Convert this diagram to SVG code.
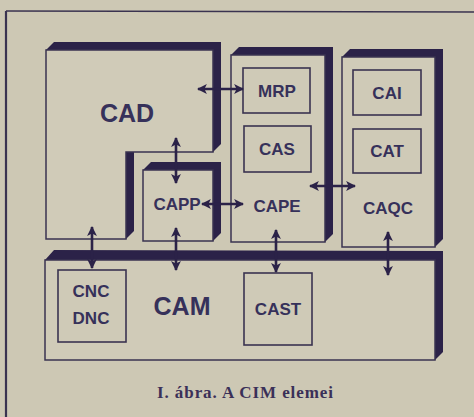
<svg xmlns="http://www.w3.org/2000/svg" width="474" height="417" viewBox="0 0 474 417">
<defs>
<style>
.bg{fill:#cdc8b4}
.sh{fill:#2b2248}
.fr{fill:#d0cbb8;stroke:#3a3350;stroke-width:1.5}
.ib{fill:#cfcab7;stroke:#3a3350;stroke-width:1.6}
.t{font-family:"Liberation Sans",Arial,sans-serif;font-weight:bold;fill:#36315a;text-anchor:middle}
.s{font-size:17px}
.b{font-size:25px}
.cap{font-family:"Liberation Serif","Times New Roman",serif;font-weight:bold;font-size:17px;fill:#3a3058;text-anchor:middle}
.ar{stroke:#2b2248;stroke-width:2.6;fill:none;marker-start:url(#ah);marker-end:url(#ah)}
</style>
<marker id="ah" viewBox="0 0 10 10" refX="9" refY="5" markerWidth="3.8" markerHeight="3.8" orient="auto-start-reverse" markerUnits="strokeWidth">
<path d="M0,0 L10,5 L0,10 L2.5,5 z" fill="#2b2248"/>
</marker>
</defs>
<rect class="bg" x="0" y="0" width="474" height="417"/>
<g id="frame" fill="none" stroke="#3a3350">
<line x1="6" y1="11" x2="474" y2="12" stroke-width="1.6"/>
<line x1="6" y1="11" x2="6" y2="417" stroke-width="2.2"/>
</g>
<g id="CAD">
<polygon class="sh" points="46,50 54,42 221,42 221,144 213,152 134,152 134,231 126,239 46,239"/>
<polygon class="fr" points="46,50 213,50 213,152 126,152 126,239 46,239"/>
<text class="t b" x="127" y="122">CAD</text>
</g>
<g id="CAPP">
<polygon class="sh" points="143,170 151,162 221,162 221,233 213,241"/>
<rect class="fr" x="143" y="170" width="70" height="71"/>
<text class="t s" x="177" y="210">CAPP</text>
</g>
<g id="CAPE">
<polygon class="sh" points="231,55 239,47 333,47 333,234 325,242"/>
<rect class="fr" x="231" y="55" width="94" height="187"/>
<text class="t s" x="277" y="212">CAPE</text>
</g>
<g id="MRP">
<rect class="ib" x="243" y="68" width="67" height="45"/>
<text class="t s" x="277" y="97">MRP</text>
</g>
<g id="CAS">
<rect class="ib" x="244" y="126" width="67" height="46"/>
<text class="t s" x="277" y="155">CAS</text>
</g>
<g id="CAQC">
<polygon class="sh" points="342,57 350,49 443,49 443,239 435,247"/>
<rect class="fr" x="342" y="57" width="93" height="190"/>
<text class="t s" x="388" y="214">CAQC</text>
</g>
<g id="CAI">
<rect class="ib" x="353" y="70" width="68" height="45"/>
<text class="t s" x="387" y="99">CAI</text>
</g>
<g id="CAT">
<rect class="ib" x="353" y="129" width="68" height="44"/>
<text class="t s" x="387" y="157">CAT</text>
</g>
<g id="CAM">
<polygon class="sh" points="45,260 54,250 443,251 443,352 435,360"/>
<rect class="fr" x="45" y="260" width="390" height="100"/>
<text class="t b" x="182" y="315">CAM</text>
</g>
<g id="CNCDNC">
<rect class="ib" x="58" y="270" width="68" height="72"/>
<text class="t s" x="91" y="297">CNC</text>
<text class="t s" x="91" y="324">DNC</text>
</g>
<g id="CAST">
<rect class="ib" x="244" y="273" width="68" height="72"/>
<text class="t s" x="278" y="315">CAST</text>
</g>
<g id="connectors">
<line class="ar" x1="198" y1="89" x2="243" y2="89"/>
<line class="ar" x1="176" y1="138" x2="176" y2="183"/>
<line class="ar" x1="202" y1="204" x2="243" y2="204"/>
<line class="ar" x1="310" y1="186" x2="355" y2="186"/>
<line class="ar" x1="92" y1="227" x2="92" y2="268"/>
<line class="ar" x1="176" y1="228" x2="176" y2="270"/>
<line class="ar" x1="276" y1="230" x2="276" y2="272"/>
<line class="ar" x1="388" y1="232" x2="388" y2="275"/>
</g>
<text class="cap" x="245" y="398" textLength="176" lengthAdjust="spacing">I. ábra. A CIM elemei</text>
</svg>
